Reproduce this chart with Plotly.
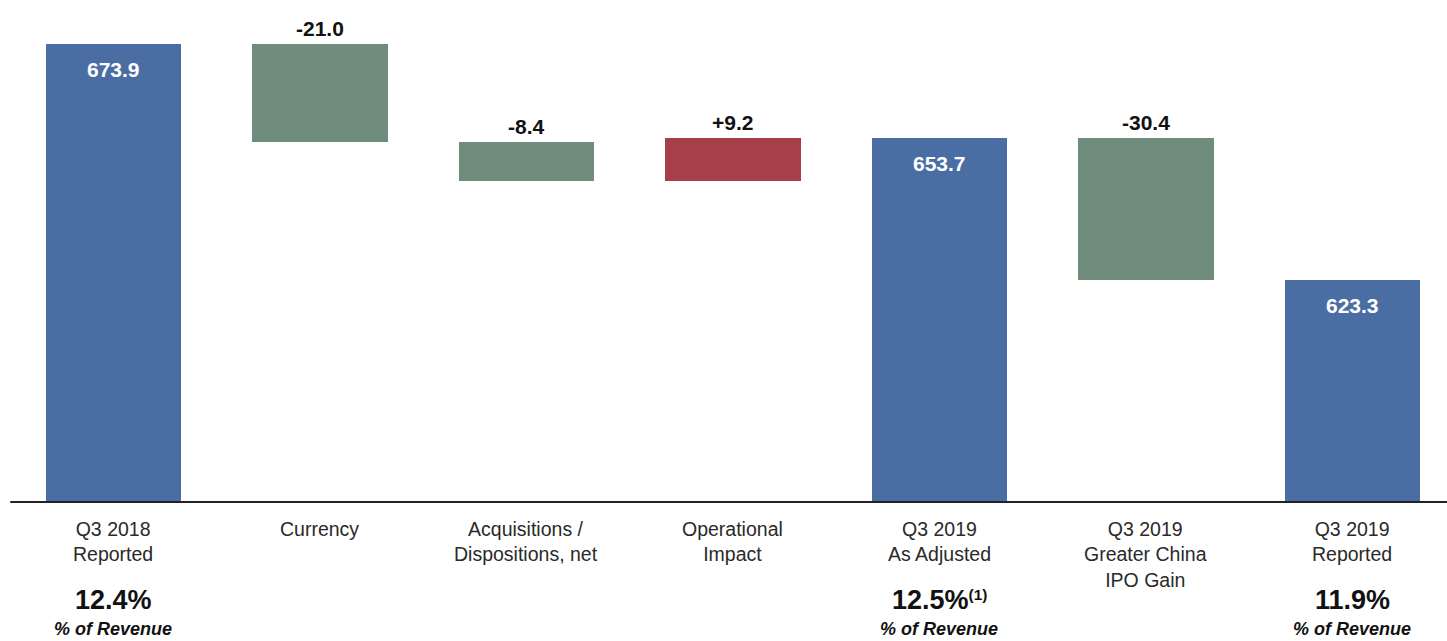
import plotly.graph_objects as go

# Waterfall: Q3 2018 -> Q3 2019 bridge
categories = ["Q3 2018<br>Reported", "Currency", "Acquisitions /<br>Dispositions, net",
              "Operational<br>Impact", "Q3 2019<br>As Adjusted",
              "Q3 2019<br>Greater China<br>IPO Gain", "Q3 2019<br>Reported"]
values = [673.9, -21.0, -8.4, 9.2, 653.7, -30.4, 623.3]
measures = ["total", "relative", "relative", "relative", "total", "relative", "total"]
value_labels = ["673.9", "-21.0", "-8.4", "+9.2", "653.7", "-30.4", "623.3"]
pct_labels = ["12.4%", "", "", "", "12.5%", "", "11.9%"]
pct_notes = ["", "", "", "", "(1)", "", ""]

BLUE = "#4A6DA3"
GREEN = "#6F8C7D"
RED = "#A63F4A"
FONT = "Liberation Sans, Arial, sans-serif"

Y_MIN, Y_MAX = 575.6, 683.3
BAR_W = 0.655

xs = list(range(len(categories)))
bases, heights, colors = [], [], []
running = 0.0
for v, m in zip(values, measures):
    if m == "total":
        running = v
        bases.append(0)
        heights.append(v)
        colors.append(BLUE)
    else:
        start = running
        running = start + v
        bases.append(min(start, running))
        heights.append(abs(v))
        colors.append(GREEN if v < 0 else RED)

fig = go.Figure(go.Bar(
    x=xs, y=heights, base=bases, width=BAR_W,
    marker=dict(color=colors, line=dict(width=0)),
    hoverinfo="skip",
))

annotations = []
for i, (m, b, h, lbl) in enumerate(zip(measures, bases, heights, value_labels)):
    top = b + h
    if m == "total":
        annotations.append(dict(x=i, y=top, text=f"<b>{lbl}</b>", showarrow=False,
                                yanchor="top", yshift=-12,
                                font=dict(family=FONT, size=21, color="white")))
    else:
        annotations.append(dict(x=i, y=top, text=f"<b>{lbl}</b>", showarrow=False,
                                yanchor="bottom", yshift=2,
                                font=dict(family=FONT, size=21, color="#111111")))

# category labels below the axis line
for i, cat in enumerate(categories):
    annotations.append(dict(x=i, y=0, yref="paper", text=cat, showarrow=False,
                            yanchor="top", yshift=-14,
                            font=dict(family=FONT, size=19.5, color="#2a2a2a")))

# margin percentages
for i, (p, note) in enumerate(zip(pct_labels, pct_notes)):
    if not p:
        continue
    txt = f"<b>{p}</b>"
    if note:
        txt += f"<b><span style='font-size:22px'><sup>{note}</sup></span></b>"
    annotations.append(dict(x=i, y=0, yref="paper", text=txt, showarrow=False,
                            yanchor="middle", yshift=-98,
                            font=dict(family=FONT, size=27, color="#111111")))
    annotations.append(dict(x=i, y=0, yref="paper", text="<b><i>% of Revenue</i></b>",
                            showarrow=False, yanchor="middle", yshift=-127,
                            font=dict(family=FONT, size=18, color="#111111")))

x0 = -0.5496
x1 = x0 + 1447 / 206.5

fig.update_layout(
    width=1447, height=641,
    margin=dict(l=0, r=0, t=0, b=139),
    paper_bgcolor="white", plot_bgcolor="white",
    showlegend=False,
    bargap=0,
    xaxis=dict(range=[x0, x1], visible=False, fixedrange=True),
    yaxis=dict(range=[Y_MIN, Y_MAX], visible=False, fixedrange=True),
    annotations=annotations,
    shapes=[dict(type="line", xref="x", yref="paper", x0=-0.5, x1=6.5, y0=0, y1=0,
                 line=dict(color="#222222", width=2))],
)

fig.write_html("out.html")
